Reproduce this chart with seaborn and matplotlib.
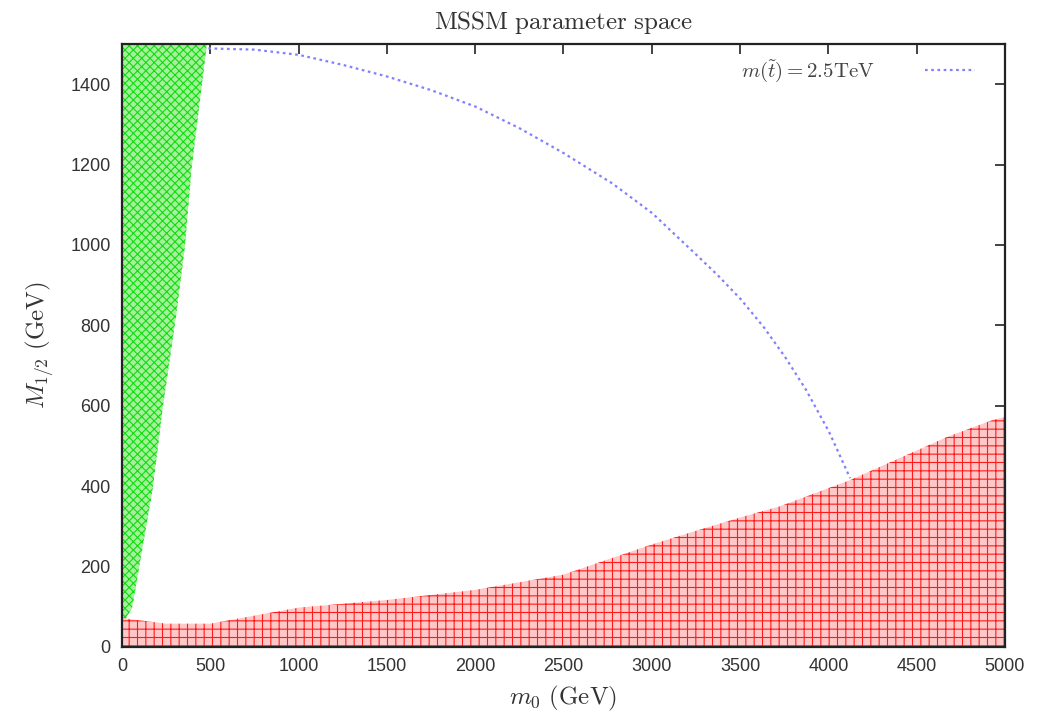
import matplotlib
matplotlib.use("Agg")
import matplotlib.pyplot as plt
import seaborn as sns
import pandas as pd

# Allowed (green) region: right edge m0 as a function of M_1/2
green_M = [40, 68, 98, 146, 244, 390, 595, 829, 995, 1190, 1500]
green_m0_right = [10, 19, 58, 77, 115, 173, 231, 308, 356, 394, 481]

# Excluded (red) region: upper edge M_1/2 as a function of m0
red_m0 = [0, 250, 500, 1000, 1500, 2000, 2500, 3000, 3273, 3500, 3726, 4000, 4122, 4445, 4670, 4932, 5000]
red_top = [72, 58, 58, 98, 117, 142, 180, 255, 292, 322, 350, 395, 415, 478, 522, 565, 572]

# Stop mass contour m(stop) = 2.5 TeV
stop_m0 = [489, 751, 1001, 1251, 1502, 1752, 2003, 2253, 2503, 2777, 3003,
           3254, 3373, 3504, 3635, 3754, 3873, 4004, 4123]
stop_M = [1489, 1486, 1473, 1448, 1419, 1385, 1344, 1290, 1228, 1153, 1079,
          975, 925, 865, 795, 722, 640, 535, 420]

x_ticks = [0, 500, 1000, 1500, 2000, 2500, 3000, 3500, 4000, 4500, 5000]
y_ticks = [0, 200, 400, 600, 800, 1000, 1200, 1400]

sns.set_theme(style="ticks")
plt.rcParams["font.family"] = ["Liberation Sans", "DejaVu Sans"]
plt.rcParams["mathtext.fontset"] = "cm"
plt.rcParams["hatch.linewidth"] = 0.8

fig = plt.figure(figsize=(10.46, 7.2), dpi=100)
ax = fig.add_axes([0.1166, 0.1014, 0.8442, 0.8375])

ax.fill_betweenx(green_M, 0, green_m0_right, facecolor="#a6f09c",
                 edgecolor="#10dd10", hatch="xxxx", linewidth=0, zorder=1)
ax.fill_between(red_m0, -20, red_top, facecolor="#ffc8c8",
                edgecolor="#ff1a1a", hatch="++", linewidth=0, zorder=1)

stop_df = pd.DataFrame({"m0": stop_m0, "M": stop_M})
sns.lineplot(data=stop_df, x="m0", y="M", sort=False, ax=ax,
             color="#8080ff", linestyle=(0, (1.2, 1.6)), linewidth=1.6,
             label=r"$m(\tilde{t}) = 2.5\mathrm{TeV}$", zorder=3)

ax.set_xlim(0, 5000)
ax.set_ylim(0, 1500)
ax.set_xticks(x_ticks)
ax.set_yticks(y_ticks)
ax.tick_params(direction="in", length=7, width=1.2, top=True, right=True,
               labelsize=13, labelcolor="#333333", pad=8, color="#222222")
for s in ax.spines.values():
    s.set_linewidth(1.6)
    s.set_color("#222222")

ax.set_title(r"$\mathrm{MSSM\ parameter\ space}$", fontsize=18, color="#333333", pad=11)
ax.set_xlabel(r"$m_0\ \mathrm{(GeV)}$", fontsize=18, color="#333333", labelpad=6)
ax.set_ylabel(r"$M_{1/2}\ \mathrm{(GeV)}$", fontsize=18, color="#333333", labelpad=10)

leg = ax.legend(loc="upper right", bbox_to_anchor=(0.975, 0.99), borderaxespad=0,
                frameon=False, fontsize=15, markerfirst=False,
                handlelength=2.4, handletextpad=2.4)
for t in leg.get_texts():
    t.set_color("#444444")

fig.savefig("out.png", dpi=100)
